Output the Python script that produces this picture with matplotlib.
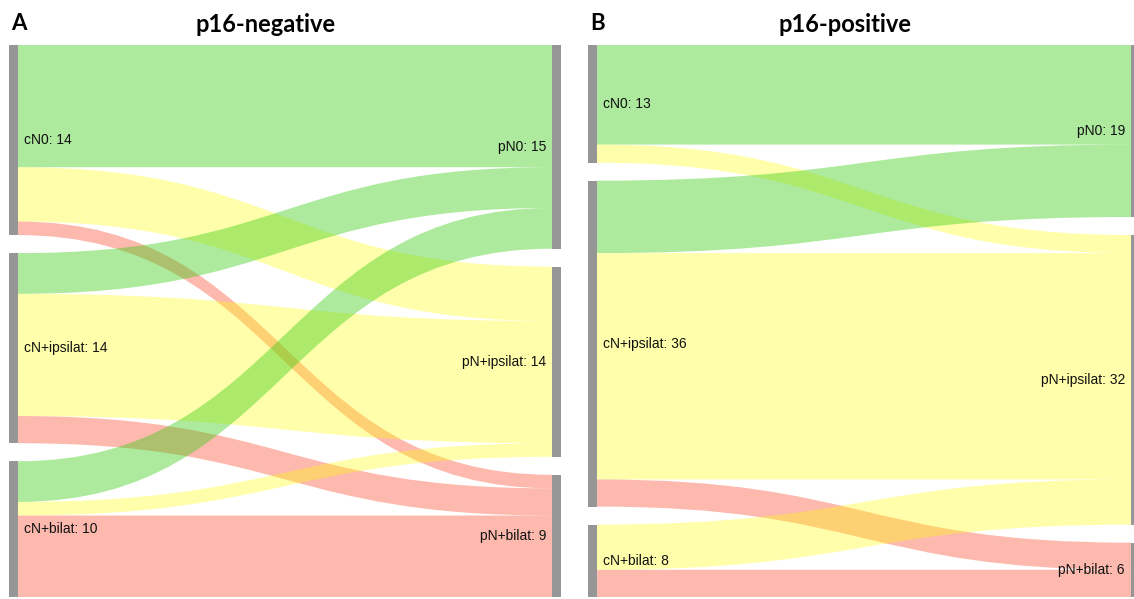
import matplotlib.pyplot as plt
from matplotlib.path import Path
from matplotlib.patches import PathPatch, Rectangle

# clinical (rows) vs pathological (cols) nodal status
left_names = ["cN0", "cN+ipsilat", "cN+bilat"]
right_names = ["pN0", "pN+ipsilat", "pN+bilat"]

neg_flows = [[9, 4, 1],
             [3, 9, 2],
             [3, 1, 6]]
pos_flows = [[11, 2, 0],
             [8, 25, 3],
             [0, 5, 3]]

panel_letters = ["A", "B"]
panel_titles = ["p16-negative", "p16-positive"]

link_colors = [(0.20, 0.80, 0.05, 0.40),
               (1.00, 1.00, 0.00, 0.33),
               (0.98, 0.32, 0.20, 0.40)]
node_color = "#969696"

W, H = 1134, 599
fig = plt.figure(figsize=(W / 100, H / 100), dpi=100)
ax = fig.add_axes([0, 0, 1, 1])
ax.set_xlim(0, W)
ax.set_ylim(H, 0)
ax.axis("off")

top, bottom, gap, bar_w = 45, 597, 18, 9
panel_x = [9, 588]
link_len = 534


def stack(sizes, scale):
    pos = []
    y = top
    for s in sizes:
        pos.append(y)
        y += s * scale + gap
    return pos


def ribbon(x0, x1, y0a, y0b, y1a, y1b, color):
    xm = (x0 + x1) / 2
    verts = [(x0, y0a), (xm, y0a), (xm, y1a), (x1, y1a),
             (x1, y1b), (xm, y1b), (xm, y0b), (x0, y0b), (x0, y0a)]
    codes = [Path.MOVETO, Path.CURVE4, Path.CURVE4, Path.CURVE4,
             Path.LINETO, Path.CURVE4, Path.CURVE4, Path.CURVE4, Path.CLOSEPOLY]
    ax.add_patch(PathPatch(Path(verts, codes), facecolor=color, edgecolor="none", lw=0))


for p, flows in enumerate([neg_flows, pos_flows]):
    lx = panel_x[p]
    rx = lx + bar_w + link_len
    lsum = [sum(r) for r in flows]
    rsum = [sum(flows[i][j] for i in range(3)) for j in range(3)]
    total = sum(lsum)
    scale = (bottom - top - gap * 2) / total
    ly = stack(lsum, scale)
    ry = stack(rsum, scale)

    # links: ordered by target at the source, by source at the target
    lcur = list(ly)
    rcur = list(ry)
    for i in range(3):
        for j in range(3):
            v = flows[i][j]
            if v == 0:
                continue
            h = v * scale
            ribbon(lx + bar_w, rx, lcur[i], lcur[i] + h, rcur[j], rcur[j] + h, link_colors[j])
            lcur[i] += h
            rcur[j] += h

    for k in range(3):
        ax.add_patch(Rectangle((lx, ly[k]), bar_w, lsum[k] * scale, color=node_color, lw=0))
        ax.add_patch(Rectangle((rx, ry[k]), bar_w, rsum[k] * scale, color=node_color, lw=0))
        ax.text(lx + bar_w + 6, ly[k] + lsum[k] * scale / 2, f"{left_names[k]}: {lsum[k]}",
                ha="left", va="center", fontsize=10, family="Liberation Sans", color="#111111")
        ax.text(rx - 6, ry[k] + rsum[k] * scale / 2, f"{right_names[k]}: {rsum[k]}",
                ha="right", va="center", fontsize=10, family="Liberation Sans", color="#111111")

    ax.text(lx + 2, 24, panel_letters[p], ha="left", va="center", fontsize=16,
            fontweight="bold", family="Lato")
    ax.text(lx + bar_w + link_len / 2 - 19, 24, panel_titles[p], ha="center", va="center",
            fontsize=17, fontweight="bold", family="Lato")

fig.savefig("out.png", dpi=100)
